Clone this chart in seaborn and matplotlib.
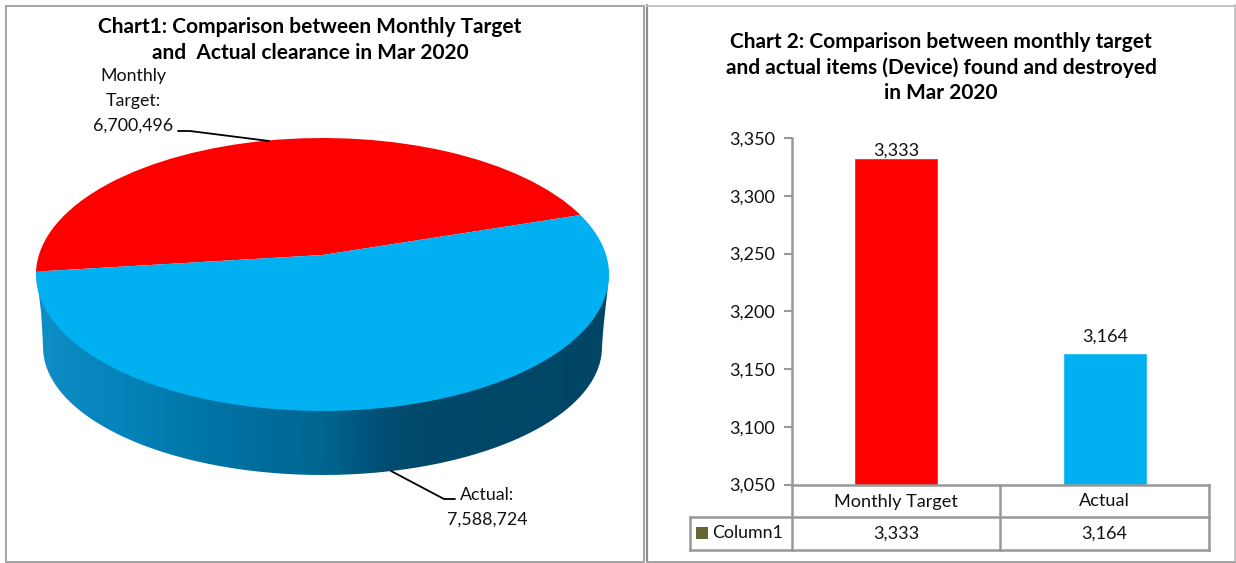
import numpy as np
import pandas as pd
import matplotlib
matplotlib.use("Agg")
import matplotlib.pyplot as plt
from matplotlib.colors import LinearSegmentedColormap
from matplotlib.patches import PathPatch, Rectangle
from matplotlib.path import Path
from matplotlib.transforms import Transform
import seaborn as sns

# ---- data ----
pie_labels = ["Monthly\nTarget:", "Actual:"]
pie_values = [6700496, 7588724]
bar_categories = ["Monthly Target", "Actual"]
bar_values = [3333, 3164]
y_ticks = [3050, 3100, 3150, 3200, 3250, 3300, 3350]
series_name = "Column1"
title_1 = "Chart1: Comparison between Monthly Target\nand  Actual clearance in Mar 2020"
title_2 = "Chart 2: Comparison between monthly target\nand actual items (Device) found and destroyed\nin Mar 2020"

RED, BLUE = "#FF0000", "#00B0F0"
GREY = "#989898"
FONT = "Lato"

sns.set_theme(style="white")
plt.rcParams["font.family"] = [FONT, "DejaVu Sans"]
W, H = 1236, 563
fig = plt.figure(figsize=(W / 100, H / 100), dpi=100, facecolor="white")

# pixel-coordinate canvas
bg = fig.add_axes([0, 0, 1, 1])

class Tilt(Transform):
    """Perspective view of the unit pie disc, in canvas pixels."""
    input_dims = output_dims = 2
    is_separable = False
    has_inverse = False
    def __init__(self, cx=322.5, cy=274.5, c=283.6, a=136.5, b=19.5, k=1 / 7):
        super().__init__()
        self.p = (cx, cy, c, a, b, k)
    def transform_non_affine(self, v):
        cx, cy, c, a, b, k = self.p
        v = np.asarray(v, float)
        d = 1 + k * v[:, 1]
        return np.column_stack([cx + c * v[:, 0] / d, cy - (a * v[:, 1] + b) / d])

# pie side wall
t = np.linspace(0, np.pi, 200)
wall_cx, wall_cy, wall_rx, wall_ry = 322.5, 347, 279.5, 128
low_x = wall_cx - wall_rx * np.cos(t)
low_y = wall_cy + wall_ry * np.sin(t)
wall = np.vstack([[[36, 270], [37, 280], [39, 295], [41, 312], [42.3, 332]],
                  np.column_stack([low_x, low_y]),
                  [[603, 332], [605, 312], [607, 295], [609, 275]], [[322, 320]]])
wall_patch = PathPatch(Path(np.vstack([wall, wall[:1]])), fc="none", ec="none",
                       transform=bg.transData)
bg.add_patch(wall_patch)
wall_cmap = LinearSegmentedColormap.from_list("wall", [
    (0.00, "#0F8DC6"), (0.15, "#0484BB"), (0.30, "#0074A6"), (0.50, "#006692"),
    (0.62, "#004C70"), (0.68, "#00496B"), (1.00, "#004564")])
im = bg.imshow(np.linspace(0, 1, 256)[None, :], cmap=wall_cmap, aspect="auto",
               extent=(36, 609, 480, 260), zorder=1)
im.set_clip_path(wall_patch)

# pie top face
wedges, _ = bg.pie(pie_values, colors=[RED, BLUE], startangle=18.2,
                   wedgeprops=dict(linewidth=0, zorder=2))

bg.set_xlim(0, W)
bg.set_ylim(H, 0)
bg.set_aspect("auto")
bg.axis("off")
tilt = Tilt()
for w in wedges:
    w.set_transform(tilt + bg.transData)

# panel frames
bg.add_patch(Rectangle((6, 6), 638, 556, fc="none", ec="#A4A4A4", lw=1.4, zorder=0))
bg.plot([646.7, 646.7], [5, 562], color="#8C8C8C", lw=1.6, zorder=0)
bg.plot([646.7, 1235], [5.5, 5.5], color="#C4C4C4", lw=1.4, zorder=0)
bg.plot([1235, 1235], [5, 562], color="#C4C4C4", lw=1.4, zorder=0)
bg.plot([646.7, 1235], [561.7, 561.7], color="#A4A4A4", lw=1.4, zorder=0)

# pie leader lines and labels
bg.plot([178, 190, 269], [131, 131, 141], color="black", lw=1.3, zorder=3)
bg.plot([391, 444, 455], [471, 499, 499], color="black", lw=1.3, zorder=3)
bg.text(133, 101, f"{pie_labels[0]}\n{pie_values[0]:,}", ha="center", va="center",
        fontsize=12.8, color="#111111", linespacing=1.66)
bg.text(487.5, 507, f"{pie_labels[1]}\n{pie_values[1]:,}", ha="center", va="center",
        fontsize=12.8, color="#111111", linespacing=1.66)

# titles
bg.text(310, 40, title_1, ha="center", va="center", fontsize=15, fontweight="bold",
        color="black", linespacing=1.32)
bg.text(941, 67.5, title_2, ha="center", va="center", fontsize=15, fontweight="bold",
        color="black", linespacing=1.32)

# bar chart
L, R, T, B = 792, 1209, 138, 484.5
ax = fig.add_axes([L / W, 1 - B / H, (R - L) / W, (B - T) / H], facecolor="none")
df = pd.DataFrame({"category": bar_categories, "value": bar_values})
sns.barplot(data=df, x="category", y="value", hue="category", saturation=1,
            palette=[RED, BLUE], width=0.403, legend=False, ax=ax)
ax.set_ylim(y_ticks[0], y_ticks[-1])
ax.set_yticks(y_ticks)
ax.set_yticklabels([f"{v:,}" for v in y_ticks], fontsize=13, color="#111111")
ax.set_xticks([])
ax.set_xlabel("")
ax.set_ylabel("")
ax.tick_params(axis="y", left=True, length=6, width=1.5, color=GREY, pad=6)
for s in ("top", "right"):
    ax.spines[s].set_visible(False)
for s in ("left", "bottom"):
    ax.spines[s].set_color(GREY)
    ax.spines[s].set_linewidth(1.8)
for cont, pad in zip(ax.containers, (-1, 6)):
    ax.bar_label(cont, fmt="{:,.0f}", padding=pad, fontsize=13, color="#111111")

# data table under the bars
row1, row2 = 517, 550
mid = 1000
tl = 689.5
seg = dict(color=GREY, lw=1.8, zorder=3, solid_capstyle="projecting")
bg.plot([R, R], [B, row2], **seg)
bg.plot([L, L], [B, row2], **seg)
bg.plot([mid, mid], [B, row2], **seg)
bg.plot([tl, R], [row1, row1], **seg)
bg.plot([tl, R], [row2, row2], **seg)
bg.plot([tl, tl], [row1, row2], **seg)
bg.add_patch(Rectangle((696, 527), 12, 12, fc="#666633", ec="none", zorder=3))
bg.text(712, 533.5, series_name, ha="left", va="center", fontsize=12.8, color="#111111")
for cx, name, val in zip([(L + mid) / 2, (mid + R) / 2], bar_categories, bar_values):
    bg.text(cx, 501.5, name, ha="center", va="center", fontsize=13.1, color="#111111")
    bg.text(cx, 533.5, f"{val:,}", ha="center", va="center", fontsize=13, color="#111111")

fig.savefig("out.png", dpi=100)
